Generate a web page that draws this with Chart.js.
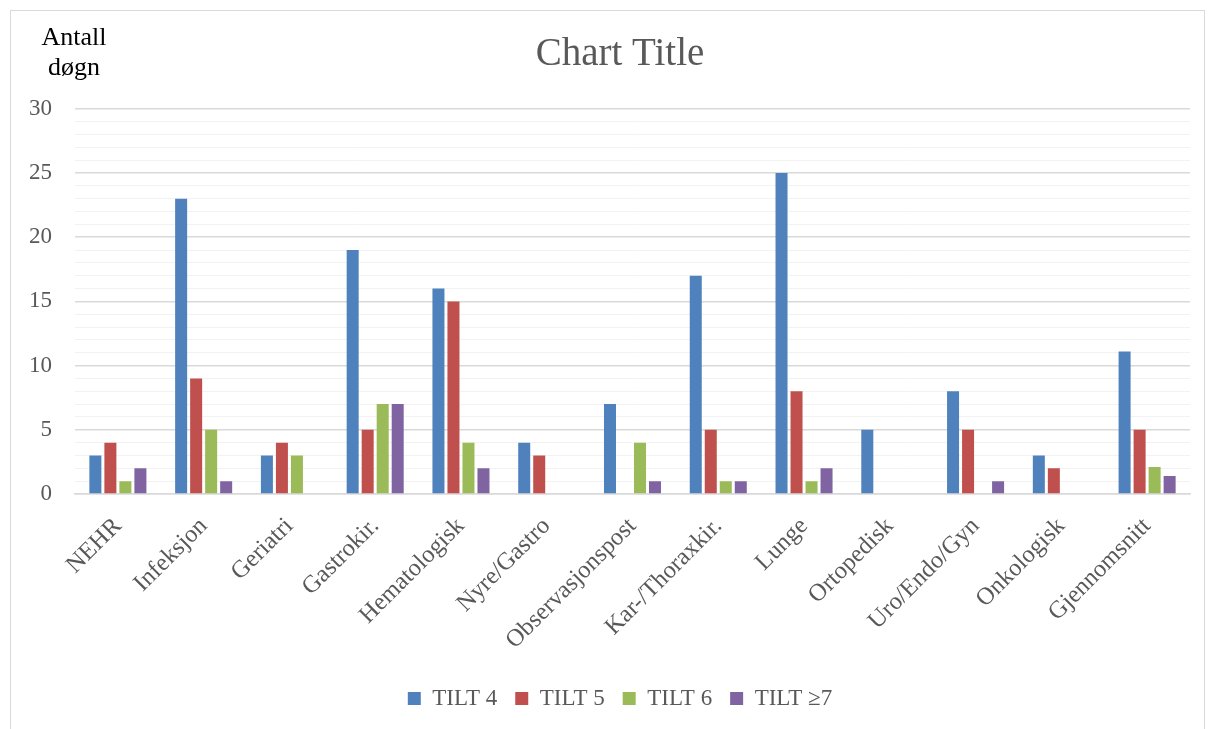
<!DOCTYPE html>
<html>
<head>
<meta charset="utf-8">
<script src="https://cdn.jsdelivr.net/npm/chart.js@4.4.1/dist/chart.umd.min.js"></script>
<style>
  body { margin: 0; background: #fff; }
  #ramme { position: absolute; left: 10px; top: 10px; width: 1195px; height: 725px; border: 1px solid #d9d9d9; box-sizing: border-box; }
  canvas { display: block; }
</style>
</head>
<body>
<div id="ramme"><canvas id="grafikk" width="1193" height="723"></canvas></div>
<script>
const avdelinger = ['NEHR', 'Infeksjon', 'Geriatri', 'Gastrokir.', 'Hematologisk', 'Nyre/Gastro', 'Observasjonspost', 'Kar-/Thoraxkir.', 'Lunge', 'Ortopedisk', 'Uro/Endo/Gyn', 'Onkologisk', 'Gjennomsnitt'];
const tilt4 = [3, 23, 3, 19, 16, 4, 7, 17, 25, 5, 8, 3, 11.1];
const tilt5 = [4, 9, 4, 5, 15, 3, null, 5, 8, null, 5, 2, 5];
const tilt6 = [1, 5, 3, 7, 4, null, 4, 1, 1, null, null, null, 2.1];
const tilt7 = [2, 1, null, 7, 2, null, 1, 1, 2, null, 1, null, 1.4];
const yTicks = [0, 5, 10, 15, 20, 25, 30];

const serif = '"Liberation Serif", "DejaVu Serif", serif';
const gra = '#595959';

// tekst oppe til venstre
const aksetekst = {
    id: 'aksetekst',
    afterDraw(chart) {
        const ctx = chart.ctx;
        ctx.save();
        ctx.fillStyle = '#000';
        ctx.font = '26px ' + serif;
        ctx.textAlign = 'center';
        ctx.textBaseline = 'alphabetic';
        ctx.fillText('Antall', 63, 34);
        ctx.fillText('døgn', 63, 64);
        ctx.restore();
    }
};

function serie(navn, data, farge) {
    return { label: navn, data: data, backgroundColor: farge, borderColor: farge, borderWidth: 0 };
}

new Chart(document.getElementById('grafikk'), {
    type: 'bar',
    data: {
        labels: avdelinger,
        datasets: [
            serie('TILT 4', tilt4, '#4f81bd'),
            serie('TILT 5', tilt5, '#c0504d'),
            serie('TILT 6', tilt6, '#9bbb59'),
            serie('TILT ≥7', tilt7, '#8064a2')
        ]
    },
    options: {
        responsive: false,
        animation: false,
        // skjev padding for å få tittel og forklaring litt til høyre
        layout: { padding: { left: -5, right: -30, top: 0, bottom: 14 } },
        datasets: { bar: { categoryPercentage: 0.7, barPercentage: 0.8 } },
        plugins: {
            title: {
                display: true,
                text: 'Chart Title',
                color: gra,
                font: { family: serif, size: 39, weight: 'normal' },
                padding: { top: 20, bottom: 31 }
            },
            legend: {
                position: 'bottom',
                labels: {
                    color: gra,
                    font: { family: serif, size: 23 },
                    boxWidth: 13,
                    boxHeight: 13,
                    padding: 18
                }
            },
            tooltip: { enabled: false }
        },
        scales: {
            x: {
                grid: { display: false },
                border: { color: '#d9d9d9', width: 1.5 },
                ticks: {
                    color: gra,
                    font: { family: serif, size: 24.5 },
                    minRotation: 45,
                    maxRotation: 45,
                    padding: 10
                },
                afterFit(akse) {
                    akse.paddingLeft = 0;
                    akse.paddingRight = 14;
                    akse.height += 4;
                }
            },
            y: {
                min: 0,
                max: 30,
                border: { display: false },
                grid: {
                    color: c => yTicks.includes(c.tick.value) ? '#d9d9d9' : '#f2f2f2',
                    lineWidth: c => yTicks.includes(c.tick.value) ? 1.5 : 1,
                    drawTicks: false
                },
                ticks: {
                    stepSize: 1,
                    autoSkip: false,
                    color: gra,
                    padding: 23,
                    font: { family: serif, size: 23 },
                    callback: v => yTicks.includes(v) ? v : ''
                }
            }
        }
    },
    plugins: [aksetekst]
});
</script>
</body>
</html>
